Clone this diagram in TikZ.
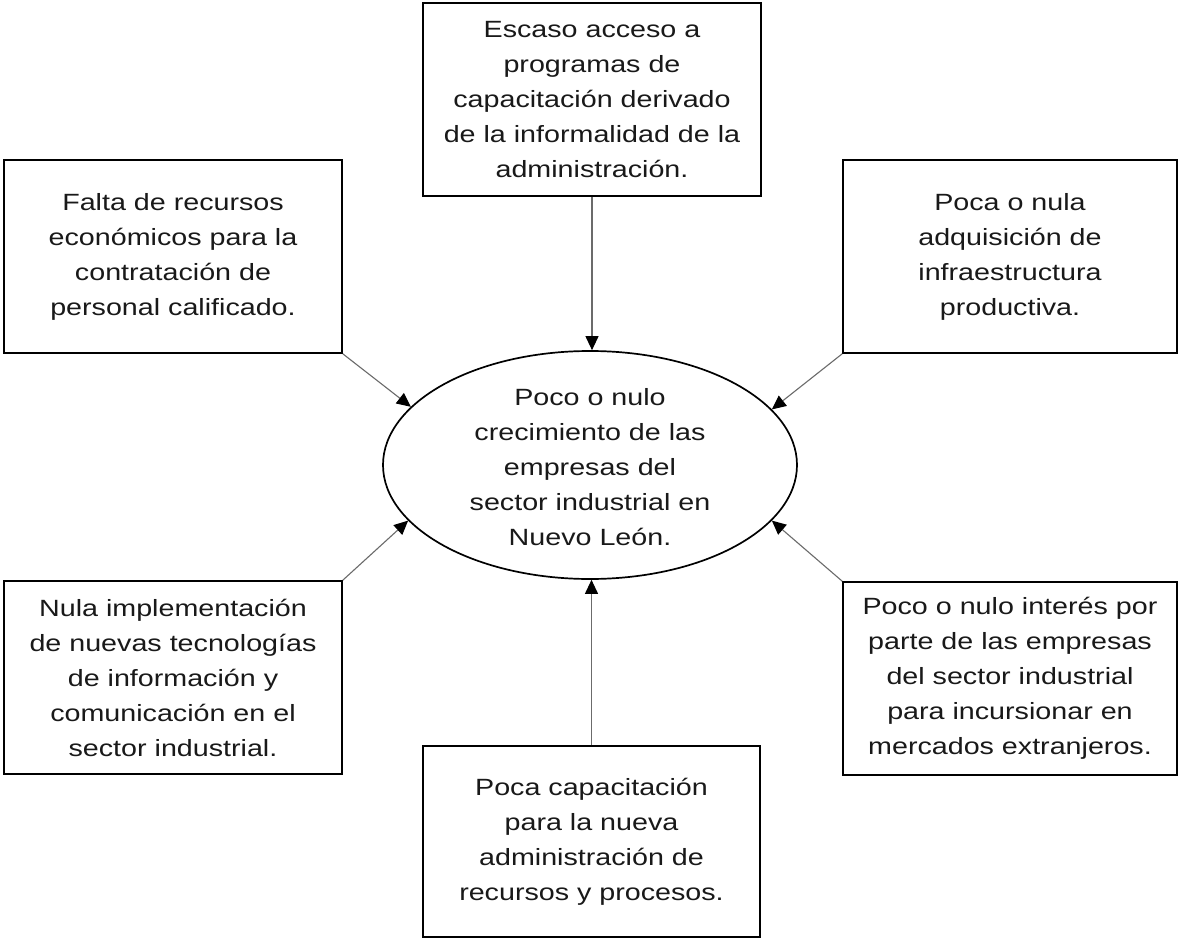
\documentclass[tikz,border=0pt]{standalone}
\usepackage{fontspec}
\setmainfont{Liberation Sans}[FakeStretch=1.22]
\usetikzlibrary{shapes.geometric,arrows.meta}
\tikzset{
  causebox/.style={draw=black, line width=1.7pt, rectangle, inner sep=0pt,
    align=center, text=black!90, font=\fontsize{23.5}{35}\selectfont},
  centreell/.style={draw=black, line width=1.7pt, ellipse, inner sep=0pt},
  centretext/.style={align=center, inner sep=0pt, text=black!90,
    font=\fontsize{23.5}{35}\selectfont},
  conn/.style={draw=black!58, line width=1.1pt,
    -{Triangle[length=14pt,width=13pt,color=black]}}
}
\begin{document}
\begin{tikzpicture}[x=1pt,y=-1pt]
\useasboundingbox (0,0) rectangle (1178,939);
\fill[white] (0,0) rectangle (1178,939);

\node[causebox, minimum width=338pt, minimum height=193pt] (top) at (592,99.5)
  {Escaso acceso a\\programas de\\capacitación derivado\\de la informalidad de la\\administración.};
\node[causebox, minimum width=338pt, minimum height=193pt] (lt) at (173,256.5)
  {Falta de recursos\\económicos para la\\contratación de\\personal calificado.};
\node[causebox, minimum width=334pt, minimum height=193pt] (rt) at (1010,256.5)
  {Poca o nula\\adquisición de\\infraestructura\\productiva.};
\node[causebox, minimum width=338pt, minimum height=193pt] (lb) at (173,677.5)
  {Nula implementación\\de nuevas tecnologías\\de información y\\comunicación en el\\sector industrial.};
\node[causebox, minimum width=334pt, minimum height=193pt] (rb) at (1010,678.5)
  {Poco o nulo interés por\\parte de las empresas\\del sector industrial\\para incursionar en\\mercados extranjeros.};
\node[causebox, minimum width=337pt, minimum height=191pt] (bot) at (591.5,841.5)
  {Poca capacitación\\para la nueva\\administración de\\recursos y procesos.};

\node[centreell, minimum width=414pt, minimum height=228pt] (el) at (590,465) {};
\node[centretext] (eltext) at (590,467)
  {Poco o nulo\\crecimiento de las\\empresas del\\sector industrial en\\Nuevo León.};

\draw[conn] (top.south) -- (top.south |- el.north);
\draw[conn] (bot.north) -- (bot.north |- el.south);
\draw[conn] (lt.south east) -- (el.162.5);
\draw[conn] (rt.south west) -- (el.17.5);
\draw[conn] (lb.north east) -- (el.197);
\draw[conn] (rb.north west) -- (el.343);
\end{tikzpicture}
\end{document}
